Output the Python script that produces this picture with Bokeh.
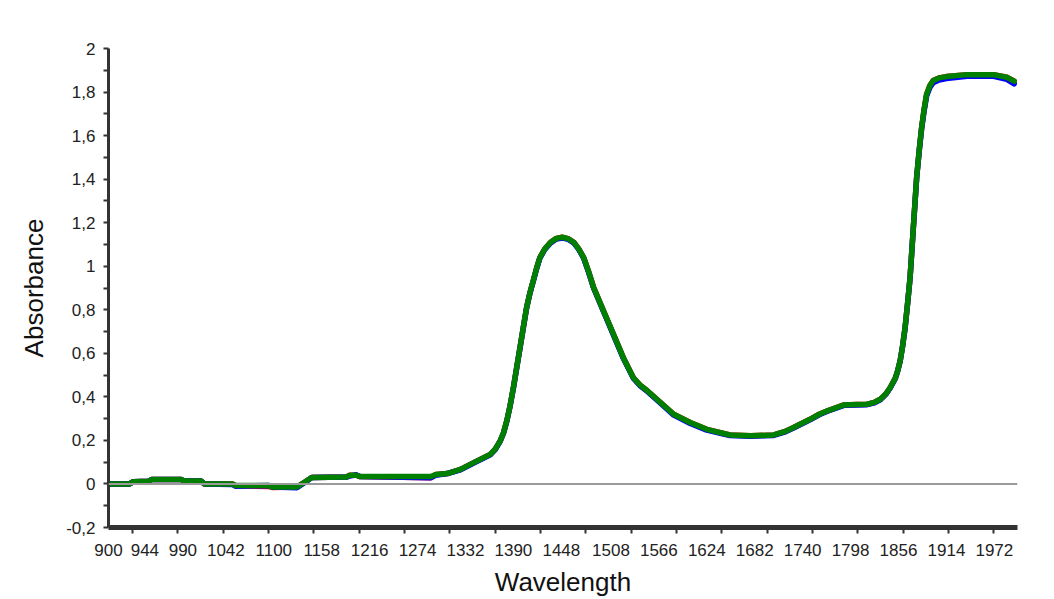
from bokeh.plotting import figure
from bokeh.models import Range1d, FixedTicker, CustomJSTickFormatter, Span
from bokeh.embed import file_html
from bokeh.resources import INLINE

wavelength = [900, 925, 930, 948, 952, 988, 992, 1012, 1016, 1050,
              1054, 1094, 1098, 1128, 1138, 1146, 1188, 1192, 1200, 1204,
              1290, 1296, 1310, 1326, 1342, 1362, 1368, 1374, 1378, 1382,
              1386, 1390, 1394, 1398, 1402, 1406, 1410, 1414, 1418, 1422,
              1428, 1435, 1442, 1449, 1456, 1463, 1469, 1475, 1481, 1487,
              1499, 1511, 1523, 1535, 1543, 1552, 1568, 1584, 1604, 1624,
              1652, 1677, 1705, 1718, 1729, 1749, 1760, 1770, 1790, 1805,
              1818, 1827, 1834, 1841, 1846, 1852, 1855, 1858, 1861, 1864,
              1867, 1870, 1874, 1878, 1881, 1884, 1887, 1890, 1894, 1898,
              1905, 1914, 1939, 1971, 1987, 1996]

green = [0.000, 0.000, 0.010, 0.012, 0.020, 0.020, 0.013, 0.013, 0.000, 0.000,
         -0.007, -0.007, -0.014, -0.014, 0.010, 0.030, 0.032, 0.040, 0.040, 0.034,
         0.034, 0.043, 0.048, 0.067, 0.098, 0.136, 0.160, 0.198, 0.235, 0.290,
         0.360, 0.443, 0.535, 0.627, 0.720, 0.811, 0.878, 0.933, 0.990, 1.040,
         1.080, 1.110, 1.128, 1.133, 1.127, 1.110, 1.080, 1.040, 0.975, 0.903,
         0.795, 0.688, 0.580, 0.489, 0.455, 0.428, 0.374, 0.320, 0.282, 0.251,
         0.225, 0.221, 0.225, 0.240, 0.259, 0.297, 0.320, 0.336, 0.363, 0.365,
         0.366, 0.375, 0.389, 0.415, 0.443, 0.485, 0.520, 0.566, 0.635, 0.719,
         0.830, 0.948, 1.180, 1.410, 1.530, 1.638, 1.720, 1.790, 1.830, 1.853,
         1.865, 1.871, 1.880, 1.880, 1.868, 1.850]

red = [0.000, 0.000, 0.010, 0.012, 0.020, 0.020, 0.013, 0.013, 0.000, 0.000,
       -0.008, -0.012, -0.016, -0.014, 0.010, 0.030, 0.032, 0.040, 0.040, 0.034,
       0.028, 0.043, 0.048, 0.067, 0.098, 0.136, 0.160, 0.198, 0.235, 0.290,
       0.360, 0.443, 0.535, 0.627, 0.720, 0.811, 0.878, 0.933, 0.990, 1.040,
       1.080, 1.110, 1.128, 1.133, 1.127, 1.110, 1.080, 1.040, 0.975, 0.903,
       0.795, 0.688, 0.580, 0.489, 0.455, 0.428, 0.374, 0.320, 0.282, 0.251,
       0.225, 0.221, 0.225, 0.240, 0.259, 0.297, 0.320, 0.336, 0.363, 0.365,
       0.366, 0.375, 0.389, 0.415, 0.443, 0.485, 0.520, 0.566, 0.635, 0.719,
       0.830, 0.948, 1.180, 1.410, 1.530, 1.638, 1.720, 1.790, 1.830, 1.853,
       1.865, 1.871, 1.880, 1.880, 1.868, 1.850]

blue = [0.000, 0.000, 0.010, 0.012, 0.020, 0.020, 0.013, 0.013, 0.000, -0.003,
        -0.010, -0.007, -0.014, -0.017, 0.008, 0.030, 0.032, 0.036, 0.042, 0.034,
        0.029, 0.040, 0.048, 0.065, 0.096, 0.134, 0.158, 0.196, 0.233, 0.288,
        0.358, 0.441, 0.533, 0.625, 0.718, 0.809, 0.876, 0.931, 0.988, 1.037,
        1.077, 1.107, 1.125, 1.130, 1.124, 1.107, 1.077, 1.037, 0.972, 0.900,
        0.792, 0.685, 0.577, 0.486, 0.452, 0.425, 0.371, 0.316, 0.278, 0.247,
        0.222, 0.219, 0.223, 0.238, 0.257, 0.295, 0.318, 0.334, 0.361, 0.363,
        0.364, 0.373, 0.387, 0.413, 0.441, 0.483, 0.518, 0.564, 0.633, 0.717,
        0.828, 0.946, 1.178, 1.407, 1.526, 1.632, 1.713, 1.782, 1.821, 1.843,
        1.855, 1.862, 1.872, 1.872, 1.858, 1.838]

x_tick_labels = [900, 944, 990, 1042, 1100, 1158, 1216, 1274, 1332, 1390, 1448, 1508, 1566,
                 1624, 1682, 1740, 1798, 1856, 1914, 1972]
x_tick_marks = [929 + 54.85 * k for k in range(20)]
y_ticks = [-0.2, 0, 0.2, 0.4, 0.6, 0.8, 1.0, 1.2, 1.4, 1.6, 1.8, 2.0]
y_minor = [-0.1 + 0.2 * k for k in range(11)]

p = figure(width=1046, height=591, output_backend="svg", toolbar_location=None,
           x_range=Range1d(900, 2000), y_range=Range1d(-0.2, 2.0),
           frame_width=909, frame_height=479,
           min_border_left=108, min_border_top=48, min_border_right=29, min_border_bottom=64)
p.background_fill_color = "white"
p.border_fill_color = "white"
p.outline_line_color = None
p.grid.visible = False

FONT = "Liberation Sans"
TXT = "#222222"
AX = "#333333"

p.xaxis.ticker = FixedTicker(ticks=x_tick_labels, minor_ticks=x_tick_marks)
p.xaxis.major_tick_out = 0
p.xaxis.major_tick_in = 0
p.xaxis.minor_tick_out = 6
p.xaxis.minor_tick_in = 0
p.xaxis.minor_tick_line_width = 2
p.xaxis.minor_tick_line_color = AX
p.xaxis.axis_line_width = 5
p.xaxis.axis_line_color = AX
p.xaxis.major_label_standoff = 10
p.xaxis.axis_label = "Wavelength"
p.xaxis.axis_label_standoff = 8

p.yaxis.ticker = FixedTicker(ticks=y_ticks, minor_ticks=y_minor)
p.yaxis.formatter = CustomJSTickFormatter(
    code="var s = (Math.round(tick*10)/10).toString(); return s.replace('.', ',');")
p.yaxis.major_tick_out = 5
p.yaxis.major_tick_in = 0
p.yaxis.minor_tick_out = 5
p.yaxis.minor_tick_in = 0
p.yaxis.major_tick_line_width = 2
p.yaxis.minor_tick_line_width = 2
p.yaxis.major_tick_line_color = AX
p.yaxis.minor_tick_line_color = AX
p.yaxis.axis_line_width = 3
p.yaxis.axis_line_color = AX
p.yaxis.major_label_standoff = 8
p.yaxis.axis_label = "Absorbance"
p.yaxis.axis_label_standoff = 14

for ax in (p.xaxis, p.yaxis):
    ax.major_label_text_font = FONT
    ax.major_label_text_font_size = "17px"
    ax.major_label_text_color = TXT
    ax.axis_label_text_font = FONT
    ax.axis_label_text_font_size = "26px"
    ax.axis_label_text_font_style = "normal"
    ax.axis_label_text_color = "#111111"

p.add_layout(Span(location=0, dimension="width", line_color="#9a9a9a", line_width=2))

for series, color in ((red, "#ff0000"), (blue, "#0000ff"), (green, "#008000")):
    p.line(wavelength, series, line_color=color, line_width=5.5, line_join="round", line_cap="round")

open("out.html", "w").write(file_html(p, INLINE))
